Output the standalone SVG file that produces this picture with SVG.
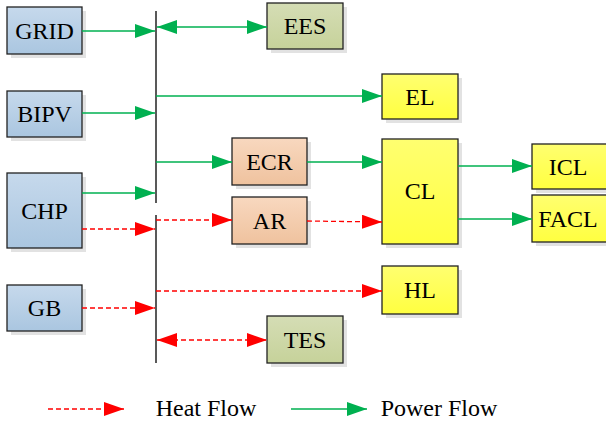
<svg xmlns="http://www.w3.org/2000/svg" width="606" height="425" viewBox="0 0 606 425">
<defs>
<linearGradient id="gBlue" x1="0" y1="0" x2="0" y2="1"><stop offset="0" stop-color="#c6d9ec"/><stop offset="1" stop-color="#aac6e0"/></linearGradient>
<linearGradient id="gPeach" x1="0" y1="0" x2="0" y2="1"><stop offset="0" stop-color="#f8d8bf"/><stop offset="1" stop-color="#efc29e"/></linearGradient>
<linearGradient id="gYellow" x1="0" y1="0" x2="0" y2="1"><stop offset="0" stop-color="#ffff70"/><stop offset="1" stop-color="#ffff40"/></linearGradient>
<linearGradient id="gGreen" x1="0" y1="0" x2="0" y2="1"><stop offset="0" stop-color="#d5ddb5"/><stop offset="1" stop-color="#c6d29a"/></linearGradient>
<marker id="ag" viewBox="0 0 20 14" refX="20" refY="7" markerWidth="20" markerHeight="14" markerUnits="userSpaceOnUse" orient="auto-start-reverse"><path d="M0,0 L20,7 L0,14 Z" fill="#00b050"/></marker>
<marker id="ar" viewBox="0 0 20 14" refX="20" refY="7" markerWidth="20" markerHeight="14" markerUnits="userSpaceOnUse" orient="auto-start-reverse"><path d="M0,0 L20,7 L0,14 Z" fill="#ff0000"/></marker>
</defs>
<style>
.box{stroke:#222;stroke-width:1.3}
.sh{fill:#e2e2e2}
.pw{stroke:#00b050;stroke-width:1.5;fill:none;marker-end:url(#ag)}
.ht{stroke:#ff0000;stroke-width:1.3;stroke-dasharray:5,3;fill:none;marker-end:url(#ar)}
.bus{stroke:#222;stroke-width:1.5}
</style>
<rect width="606" height="425" fill="#fff"/>
<g id="bus">
<line class="bus" x1="156" y1="11" x2="156" y2="203"/>
<line class="bus" x1="156" y1="215" x2="156" y2="363"/>
</g>
<g id="GRID"><rect class="sh" x="11" y="11" width="75" height="47"/><rect class="box" x="7" y="7" width="75" height="47" fill="url(#gBlue)"/><text x="44.5" y="38.5" font-family="Liberation Serif" font-size="24" text-anchor="middle">GRID</text></g>
<g id="BIPV"><rect class="sh" x="11" y="95" width="75" height="46"/><rect class="box" x="7" y="91" width="75" height="46" fill="url(#gBlue)"/><text x="44.5" y="122" font-family="Liberation Serif" font-size="24" text-anchor="middle">BIPV</text></g>
<g id="CHP"><rect class="sh" x="11" y="177" width="75" height="75"/><rect class="box" x="7" y="173" width="75" height="75" fill="url(#gBlue)"/><text x="44.5" y="218.5" font-family="Liberation Serif" font-size="24" text-anchor="middle">CHP</text></g>
<g id="GB"><rect class="sh" x="11" y="289" width="75" height="46"/><rect class="box" x="7" y="285" width="75" height="46" fill="url(#gBlue)"/><text x="44.5" y="316" font-family="Liberation Serif" font-size="24" text-anchor="middle">GB</text></g>
<g id="EES"><rect class="sh" x="271" y="7" width="76" height="46"/><rect class="box" x="267" y="3" width="76" height="46" fill="url(#gGreen)"/><text x="305" y="34" font-family="Liberation Serif" font-size="24" text-anchor="middle">EES</text></g>
<g id="TES"><rect class="sh" x="271" y="320" width="76" height="47"/><rect class="box" x="267" y="316" width="76" height="47" fill="url(#gGreen)"/><text x="305" y="347.5" font-family="Liberation Serif" font-size="24" text-anchor="middle">TES</text></g>
<g id="ECR"><rect class="sh" x="236" y="142" width="75" height="47"/><rect class="box" x="232" y="138" width="75" height="47" fill="url(#gPeach)"/><text x="269.5" y="169.5" font-family="Liberation Serif" font-size="24" text-anchor="middle">ECR</text></g>
<g id="AR"><rect class="sh" x="236" y="201" width="75" height="47"/><rect class="box" x="232" y="197" width="75" height="47" fill="url(#gPeach)"/><text x="269.5" y="228.5" font-family="Liberation Serif" font-size="24" text-anchor="middle">AR</text></g>
<g id="EL"><rect class="sh" x="386" y="78" width="76" height="45"/><rect class="box" x="382" y="74" width="76" height="45" fill="url(#gYellow)"/><text x="420" y="104.5" font-family="Liberation Serif" font-size="24" text-anchor="middle">EL</text></g>
<g id="CL"><rect class="sh" x="386" y="143" width="76" height="105"/><rect class="box" x="382" y="139" width="76" height="105" fill="url(#gYellow)"/><text x="420" y="199" font-family="Liberation Serif" font-size="24" text-anchor="middle">CL</text></g>
<g id="HL"><rect class="sh" x="386" y="270" width="76" height="48"/><rect class="box" x="382" y="266" width="76" height="48" fill="url(#gYellow)"/><text x="420" y="298" font-family="Liberation Serif" font-size="24" text-anchor="middle">HL</text></g>
<g id="ICL"><rect class="sh" x="536" y="148" width="76" height="45"/><rect class="box" x="532" y="144" width="76" height="45" fill="url(#gYellow)"/><text x="568" y="174.5" font-family="Liberation Serif" font-size="24" text-anchor="middle">ICL</text></g>
<g id="FACL"><rect class="sh" x="536" y="199" width="76" height="47"/><rect class="box" x="532" y="195" width="76" height="47" fill="url(#gYellow)"/><text x="568" y="226.5" font-family="Liberation Serif" font-size="24" text-anchor="middle">FACL</text></g>
<g id="connectors">
<line class="pw" x1="82" y1="31" x2="155" y2="31"/>
<line class="pw" x1="157" y1="27" x2="267" y2="27" style="marker-start:url(#ag)"/>
<line class="pw" x1="156" y1="96" x2="382" y2="96"/>
<line class="pw" x1="82" y1="113" x2="155" y2="113"/>
<line class="pw" x1="156" y1="162" x2="232" y2="162"/>
<line class="pw" x1="307" y1="162" x2="382" y2="162"/>
<line class="pw" x1="82" y1="193" x2="155" y2="193"/>
<line class="pw" x1="458" y1="166" x2="532" y2="166"/>
<line class="pw" x1="458" y1="219" x2="532" y2="219"/>
<line class="ht" x1="156" y1="220" x2="232" y2="220"/>
<line class="ht" x1="307" y1="221" x2="382" y2="222"/>
<line class="ht" x1="82" y1="229" x2="155" y2="229"/>
<line class="ht" x1="156" y1="291" x2="382" y2="291"/>
<line class="ht" x1="82" y1="308" x2="155" y2="308"/>
<line class="ht" x1="157" y1="340" x2="267" y2="340" style="marker-start:url(#ar)"/>
</g>
<g id="legend">
<line class="ht" x1="48" y1="409" x2="124" y2="409"/>
<text x="206" y="416" font-family="Liberation Serif" font-size="24" text-anchor="middle">Heat Flow</text>
<line class="pw" x1="291" y1="409" x2="367" y2="409"/>
<text x="439" y="416" font-family="Liberation Serif" font-size="24" text-anchor="middle">Power Flow</text>
</g>
</svg>
